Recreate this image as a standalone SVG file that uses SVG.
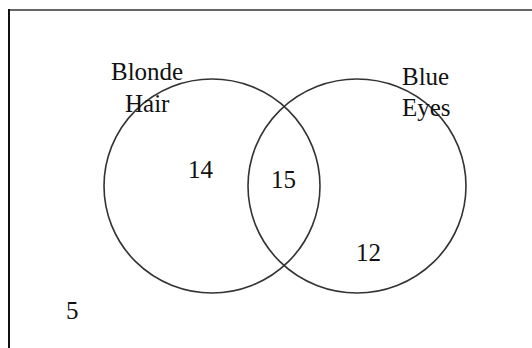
<svg xmlns="http://www.w3.org/2000/svg" width="532" height="348" viewBox="0 0 532 348">
<style>
.c{fill:none;stroke:#333;stroke-width:1.6}
.t{font-family:"Liberation Serif","Times New Roman",serif;font-size:25px;fill:#111}
</style>
<rect x="0" y="0" width="532" height="348" fill="#fff"/>
<g id="frame">
<line x1="8" y1="10" x2="532" y2="10" stroke="#666" stroke-width="2"/>
<line x1="9" y1="9" x2="9" y2="348" stroke="#111" stroke-width="2"/>
</g>
<g id="blonde-hair">
<ellipse class="c" cx="212" cy="186" rx="108" ry="107"/>
<text class="t" x="111" y="80">Blonde</text>
<text class="t" x="125" y="112">Hair</text>
<text class="t" x="188" y="178">14</text>
</g>
<g id="blue-eyes">
<ellipse class="c" cx="357" cy="186" rx="109" ry="107"/>
<text class="t" x="402" y="85">Blue</text>
<text class="t" x="402" y="116">Eyes</text>
<text class="t" x="356" y="261">12</text>
</g>
<g id="intersection">
<text class="t" x="271" y="188">15</text>
</g>
<g id="outside">
<text class="t" x="66" y="319">5</text>
</g>
<g id="connectors"></g>
</svg>
